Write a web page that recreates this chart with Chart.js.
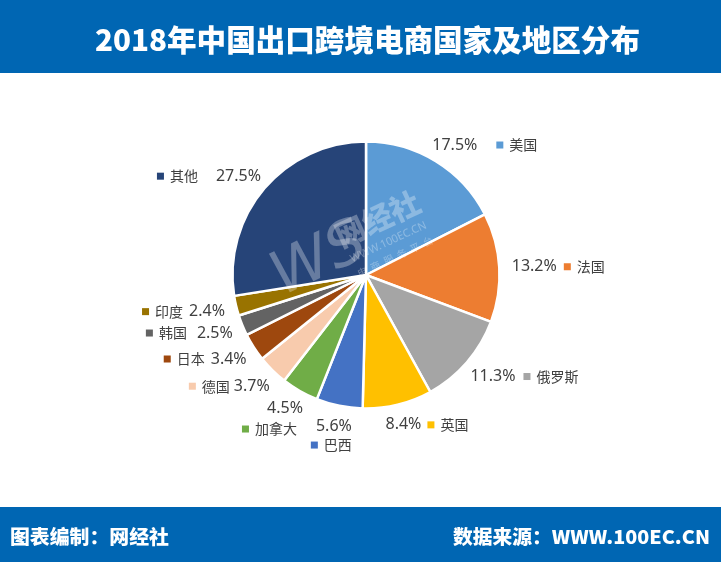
<!DOCTYPE html>
<html><head><meta charset="utf-8">
<script src="https://cdn.jsdelivr.net/npm/chart.js@4/dist/chart.umd.min.js"></script>
<style>
html,body{margin:0;padding:0;background:#fff;width:721px;height:562px;overflow:hidden;}
#top{position:absolute;left:0;top:0;width:721px;height:73px;background:#0066B3;}
#bot{position:absolute;left:0;top:507px;width:721px;height:55px;background:#0066B3;}
#wrap{position:absolute;left:0;top:0;width:721px;height:562px;}
.t{position:absolute;color:#fff;font-family:"Noto Sans CJK SC","Noto Sans",sans-serif;font-weight:900;white-space:nowrap;transform-origin:0 50%;line-height:1;}
</style></head><body>
<div id="top"></div><div id="bot"></div>
<div id="wrap"><canvas id="c" width="721" height="562"></canvas></div>
<div class="t" id="title" style="font-size:30px;">2018年中国出口跨境电商国家及地区分布</div>
<div class="t" id="fl" style="font-size:19px;">图表编制：网经社</div>
<div class="t" id="fr" style="font-size:19px;">数据来源：WWW.100EC.CN</div>
<script>
// ---- data ----
const categories = ['美国','法国','俄罗斯','英国','巴西','加拿大','德国','日本','韩国','印度','其他'];
const shares = [17.5, 13.2, 11.3, 8.4, 5.6, 4.5, 3.7, 3.4, 2.5, 2.4, 27.5];
const pctLabels = ['17.5%','13.2%','11.3%','8.4%','5.6%','4.5%','3.7%','3.4%','2.5%','2.4%','27.5%'];
const sliceColors = ['#5B9BD5','#ED7D31','#A5A5A5','#FFC000','#4472C4','#70AD47','#F8CBAD','#9E480E','#636363','#997300','#264478'];

// ---- label placement (relative to slice mid-angle anchor) ----
const labelLayout = [
  {side:'R', dx:-10, dy:-5.5, gap:19},
  {side:'R', dx:0, dy:0, gap:7},
  {side:'R', dx:-6, dy:6, gap:8},
  {side:'R', dx:-15, dy:8, gap:6},
  {side:'L2', dx:15, dy:8, dx2:15, dy2:27},
  {side:'L2', dx:9.3, dy:6.2, dx2:3.3, dy2:27.2},
  {side:'L', dx:6, dy:7, gap:4},
  {side:'L', dx:3.4, dy:5, gap:6},
  {side:'L', dx:2, dy:3, gap:10},
  {side:'L', dx:1, dy:3, gap:6},
  {side:'L', dx:6, dy:-4, gap:18}
];

function placeText(id, left, cy, targetW){
  const el = document.getElementById(id);
  const w = el.getBoundingClientRect().width;
  const h = el.getBoundingClientRect().height;
  el.style.left = left + 'px';
  el.style.top = (cy - h/2) + 'px';
  el.style.transform = 'scaleX(' + (targetW / w) + ')';
}

const PCT_FONT = '16px "Noto Sans"';
const NAME_FONT = '14px "Noto Sans CJK SC"';
const TXT = '#404040';
const SQ = 7;

const labelPlugin = {
  id:'pieLabels',
  afterDatasetsDraw(chart){
    const ctx = chart.ctx;
    const meta = chart.getDatasetMeta(0);
    // watermark
    const a0 = meta.data[0].getProps(['x','y'], true);
    ctx.save();
    ctx.translate(a0.x + 19, a0.y - 40);
    ctx.rotate(-25 * Math.PI / 180);
    ctx.fillStyle = 'rgba(255,255,255,0.3)';
    ctx.strokeStyle = 'rgba(255,255,255,0.3)';
    ctx.textAlign = 'center'; ctx.textBaseline = 'middle';
    ctx.font = '900 30px "Noto Sans CJK SC"';
    ctx.fillText('网经社', 0, -18);
    ctx.font = '11px "Noto Sans"';
    ctx.fillText('WWW.100EC.CN', 0, 8);
    ctx.font = '10px "Noto Sans CJK SC"';
    ctx.fillText('电  商  服  务  平  台', 0, 24);
    ctx.font = 'italic 200 60px "DejaVu Sans ExtraLight", "DejaVu Sans"';
    ctx.fillText('WS', -70, -4);
    ctx.restore();

    ctx.save();
    ctx.textBaseline = 'middle';
    meta.data.forEach((arc, i) => {
      const p = arc.getProps(['x','y','startAngle','endAngle','outerRadius'], true);
      const mid = (p.startAngle + p.endAngle) / 2;
      const R = p.outerRadius + 12.5;
      const ax = p.x + Math.cos(mid) * R;
      const ay = p.y + Math.sin(mid) * R;
      const L = labelLayout[i];
      const col = sliceColors[i];
      ctx.font = PCT_FONT; const wp = ctx.measureText(pctLabels[i]).width;
      ctx.font = NAME_FONT; const wn = ctx.measureText(categories[i]).width;
      if (L.side === 'R') {
        let x = ax + L.dx, y = ay + L.dy;
        ctx.fillStyle = TXT; ctx.textAlign = 'left';
        ctx.font = PCT_FONT; ctx.fillText(pctLabels[i], x, y);
        x += wp + L.gap;
        ctx.fillStyle = col; ctx.fillRect(x, y - SQ/2, SQ, SQ);
        x += SQ + 6;
        ctx.fillStyle = TXT; ctx.font = NAME_FONT; ctx.fillText(categories[i], x, y);
      } else if (L.side === 'L') {
        const right = ax + L.dx, y = ay + L.dy;
        let x = right - (SQ + 6 + wn + L.gap + wp);
        ctx.fillStyle = col; ctx.fillRect(x, y - SQ/2, SQ, SQ);
        x += SQ + 6;
        ctx.textAlign = 'left'; ctx.fillStyle = TXT;
        ctx.font = NAME_FONT; ctx.fillText(categories[i], x, y);
        x += wn + L.gap;
        ctx.font = PCT_FONT; ctx.fillText(pctLabels[i], x, y);
      } else {
        const r1 = ax + L.dx, y1 = ay + L.dy;
        ctx.textAlign = 'right'; ctx.fillStyle = TXT;
        ctx.font = PCT_FONT; ctx.fillText(pctLabels[i], r1, y1);
        const r2 = ax + L.dx2, y2 = ay + L.dy2;
        let x = r2 - (SQ + 6 + wn);
        ctx.fillStyle = col; ctx.fillRect(x, y2 - SQ/2, SQ, SQ);
        x += SQ + 6;
        ctx.textAlign = 'left'; ctx.fillStyle = TXT;
        ctx.font = NAME_FONT; ctx.fillText(categories[i], x, y2);
      }
    });
    ctx.restore();
  }
};

new Chart(document.getElementById('c'), {
  type: 'pie',
  data: {
    labels: categories,
    datasets: [{
      data: shares,
      backgroundColor: sliceColors,
      borderColor: '#ffffff',
      borderWidth: 2.5,
      hoverOffset: 0,
      radius: 133.5
    }]
  },
  options: {
    responsive: false,
    animation: false,
    events: [],
    layout: {padding: {left: 111, right: 100, top: 128, bottom: 140}},
    plugins: {legend: {display: false}, tooltip: {enabled: false}, title: {display: false}}
  },
  plugins: [labelPlugin]
});

placeText('title', 95, 38, 545);
placeText('fl', 10, 535, 159);
placeText('fr', 453, 535, 257);
</script>
</body></html>
